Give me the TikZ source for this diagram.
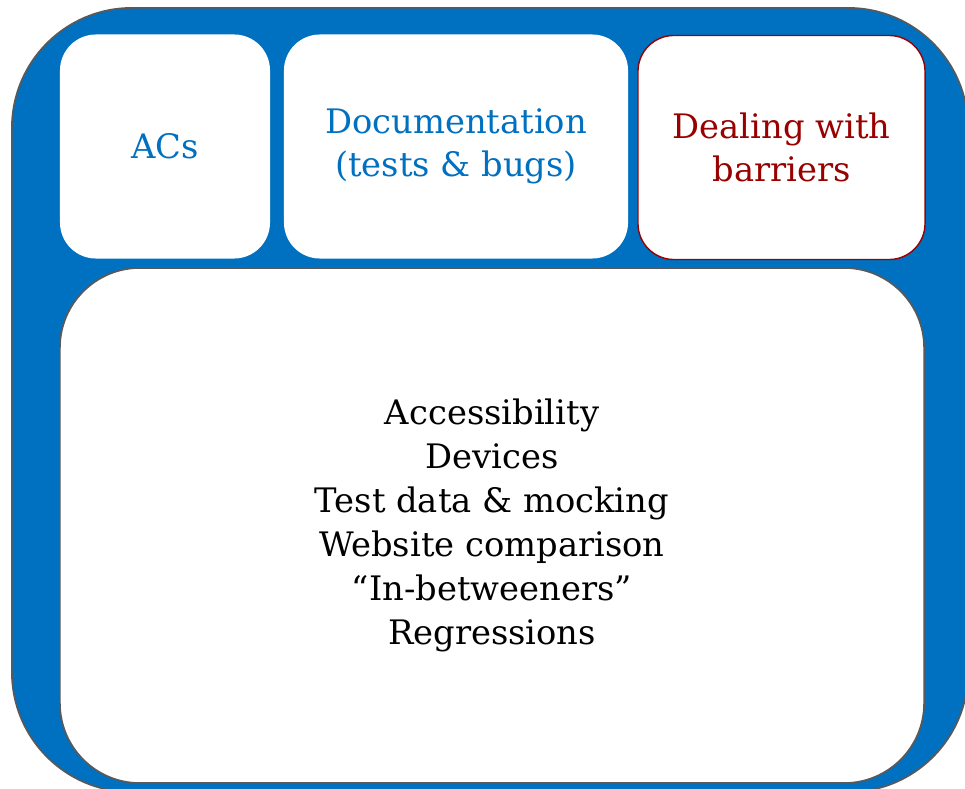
\documentclass[tikz,border=0pt]{standalone}
\usepackage{fontspec}
\setmainfont{DejaVu Serif}
\usepackage{xcolor}
\usepackage{tikz}
\usetikzlibrary{positioning}
\definecolor{areablue}{HTML}{0070C0}
\definecolor{barrierred}{HTML}{990000}
\definecolor{edgegray}{HTML}{595959}
\tikzset{
  frame/.style={draw=edgegray, line width=1.2pt, fill=areablue, rounded corners=3cm,
                minimum width=23.9cm, minimum height=19.6cm},
  topbox/.style={fill=white, rounded corners=0.9cm, minimum height=5.6cm,
                 align=center, font=\fontsize{24}{31}\selectfont},
  bigbox/.style={draw=edgegray, line width=1.2pt, fill=white, rounded corners=2cm,
                 minimum width=21.6cm, minimum height=12.875cm,
                 align=center, font=\fontsize{24}{31.3}\selectfont},
}

\begin{document}
\begin{tikzpicture}[x=0.025cm, y=-0.025cm]
    \clip (0,0) rectangle (965,788);
    \node[frame] (frame) at (490,400) {};
    \node[topbox, minimum width=5.25cm, text=areablue] (acs) at (165,146.5) {ACs};
    \node[topbox, minimum width=8.6cm, text=areablue] (docs) at (456,146.5) {Documentation\\(tests \& bugs)};
    \node[topbox, minimum width=7.175cm, draw=barrierred, line width=1pt, text=barrierred] (barriers) at (781.5,147.5) {Dealing with\\barriers};
    \node[bigbox] (topics) at (492,525.5) {Accessibility\\Devices\\Test data \& mocking\\Website comparison\\“In-betweeners”\\Regressions};
  \end{tikzpicture}
\end{document}
